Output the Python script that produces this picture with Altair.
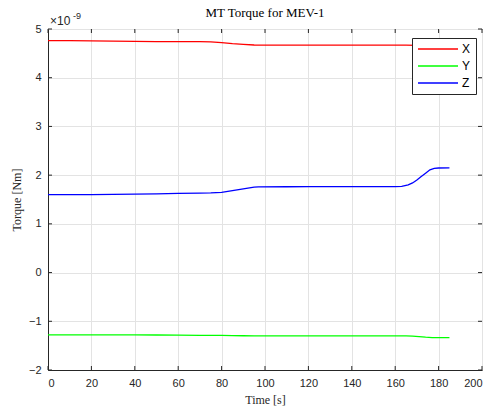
import altair as alt
import pandas as pd

# ---- data (torque in units of 1e-9 Nm) ----
t_x = [0, 10, 20, 30, 40, 50, 60, 70, 75, 80, 85, 90, 95, 100, 120, 140, 160, 165, 170, 175, 180, 185]
v_x = [4.76, 4.76, 4.755, 4.75, 4.745, 4.74, 4.74, 4.74, 4.735, 4.72, 4.70, 4.685, 4.672, 4.67, 4.67, 4.67, 4.67, 4.67, 4.665, 4.66, 4.66, 4.66]

t_y = [0, 20, 40, 50, 60, 70, 80, 85, 90, 95, 100, 120, 140, 160, 165, 168, 171, 174, 177, 180, 185]
v_y = [-1.28, -1.28, -1.28, -1.282, -1.285, -1.288, -1.29, -1.293, -1.297, -1.30, -1.30, -1.30, -1.30, -1.30, -1.30, -1.305, -1.315, -1.327, -1.335, -1.337, -1.337]

t_z = [0, 10, 20, 30, 40, 50, 60, 70, 75, 80, 85, 90, 95, 97, 110, 120, 140, 160, 163, 166, 168, 170, 172, 174, 176, 178, 180, 185]
v_z = [1.60, 1.60, 1.60, 1.605, 1.61, 1.615, 1.625, 1.63, 1.635, 1.645, 1.68, 1.72, 1.752, 1.76, 1.762, 1.765, 1.765, 1.765, 1.77, 1.80, 1.84, 1.90, 1.97, 2.04, 2.11, 2.14, 2.147, 2.15]

x_ticks = [0, 20, 40, 60, 80, 100, 120, 140, 160, 180, 200]
y_ticks = [-2, -1, 0, 1, 2, 3, 4, 5]

series_names = ["X", "Y", "Z"]
series_colors = ["#ff0000", "#00ff00", "#0000ff"]

title_text = "MT Torque for MEV-1"

rows = []
for name, ts, vs in zip(series_names, [t_x, t_y, t_z], [v_x, v_y, v_z]):
    for t, v in zip(ts, vs):
        rows.append({"Time": t, "Torque": v, "Axis": name})
df = pd.DataFrame(rows)

W, H = 434, 341
AX = "#262626"
SANS = "Liberation Sans"
SERIF = "Liberation Serif"

xscale = alt.Scale(domain=[0, 200], nice=False, zero=False)
yscale = alt.Scale(domain=[-2, 5], nice=False, zero=False)

lines = alt.Chart(df).mark_line(strokeWidth=1.3).encode(
    x=alt.X("Time:Q", scale=xscale,
            axis=alt.Axis(values=x_ticks, title="Time [s]", grid=True, ticks=False,
                          labelPadding=7, titlePadding=6)),
    y=alt.Y("Torque:Q", scale=yscale,
            axis=alt.Axis(values=y_ticks, title="Torque [Nm]", grid=True, ticks=False,
                          labelPadding=7, titlePadding=5)),
    color=alt.Color("Axis:N",
                    scale=alt.Scale(domain=series_names, range=series_colors),
                    legend=alt.Legend(title=None, orient="none", legendX=364, legendY=9,
                                      symbolType="M-1,0H7", symbolSize=100, symbolStrokeWidth=1.3,
                                      strokeColor="#262626", fillColor="white", padding=5,
                                      rowPadding=5, labelFont=SANS, labelFontSize=12,
                                      labelColor="#000000", labelOffset=33)),
    order="Time:Q",
    detail="Axis:N",
)

xt = pd.DataFrame({"v": x_ticks})
yt = pd.DataFrame({"v": y_ticks})

xt_bottom = alt.Chart(xt).mark_rule(color=AX, strokeWidth=1).encode(
    x=alt.X("v:Q", scale=xscale), y=alt.value(H), y2=alt.value(H - 4))
xt_top = alt.Chart(xt).mark_rule(color=AX, strokeWidth=1).encode(
    x=alt.X("v:Q", scale=xscale), y=alt.value(0), y2=alt.value(4))
yt_left = alt.Chart(yt).mark_rule(color=AX, strokeWidth=1).encode(
    y=alt.Y("v:Q", scale=yscale), x=alt.value(0), x2=alt.value(4))
yt_right = alt.Chart(yt).mark_rule(color=AX, strokeWidth=1).encode(
    y=alt.Y("v:Q", scale=yscale), x=alt.value(W), x2=alt.value(W - 4))

exp_base = alt.Chart(pd.DataFrame({"s": ["\u00d710"]})).mark_text(
    font=SANS, fontSize=12, color=AX, align="left", baseline="alphabetic").encode(
    x=alt.value(2), y=alt.value(-4), text="s:N")
exp_pow = alt.Chart(pd.DataFrame({"s": ["-9"]})).mark_text(
    font=SANS, fontSize=9, color=AX, align="left", baseline="alphabetic").encode(
    x=alt.value(25), y=alt.value(-10), text="s:N")

title = alt.Chart(pd.DataFrame({"s": [title_text]})).mark_text(
    font=SERIF, fontSize=13, color="#000000", align="center", baseline="alphabetic").encode(
    x=alt.value(W / 2), y=alt.value(-12), text="s:N")

chart = alt.layer(lines, xt_bottom, xt_top, yt_left, yt_right, exp_base, exp_pow, title).properties(
    width=W, height=H,
    background="white",
    autosize=alt.AutoSizeParams(type="none"),
    padding={"left": 48, "top": 29, "right": 11, "bottom": 42},
).configure_view(stroke=AX, strokeWidth=1).configure_axis(
    labelFont=SANS, labelFontSize=11, labelColor=AX,
    titleFont=SERIF, titleFontSize=12, titleFontWeight="normal", titleColor=AX,
    gridColor="#e3e3e3", gridWidth=1, domainColor=AX, domainWidth=1,
)

chart.save("out.html", embed_options={"renderer": "svg", "actions": False})
